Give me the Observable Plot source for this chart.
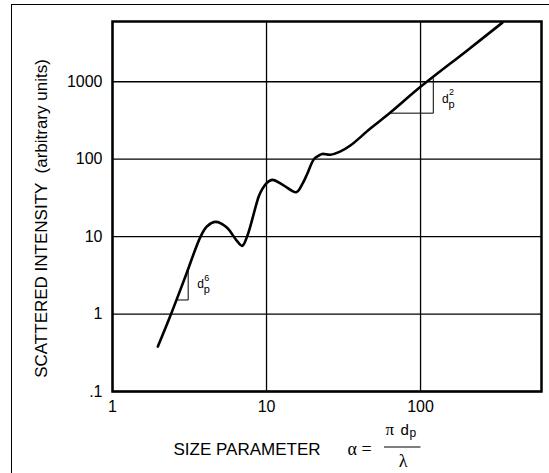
<!DOCTYPE html>
<html><head><meta charset="utf-8">
<script src="https://cdn.jsdelivr.net/npm/d3@7"></script>
<script src="https://cdn.jsdelivr.net/npm/@observablehq/plot@0.6"></script>
<style>
html,body{margin:0;padding:0;background:#fff;overflow:hidden;}
#wrap{position:relative;width:549px;height:473px;}
#border{position:absolute;left:11px;top:4px;width:620px;height:620px;border:1.5px solid #000;box-sizing:border-box;}
#wrap svg{position:absolute;left:0;top:0;}
</style></head><body><div id="wrap"><div id="border"></div></div>
<script>
// size parameter (alpha) and scattered intensity
const alpha     = [1.97, 2.4, 3.0, 3.73, 4.1, 4.67, 5.5, 6.4, 6.95, 7.5, 8.9, 9.38, 10, 10.9, 12.9, 15.6, 17.1, 18.4, 20.3, 21.9, 23, 26, 30, 35, 47, 64, 100, 200, 340];
const intensity = [0.38, 1.0, 3.2, 10, 13.5, 15.5, 13.2, 8.9, 7.6, 10.2, 33, 41, 49, 54, 46, 37.5, 48, 65, 100, 112, 117, 114, 125, 150, 247, 404, 860, 2520, 5800];

const xTicks = [1, 10, 100];
const xTickLabels = ["1", "10", "100"];
const yTicks = [0.1, 1, 10, 100, 1000];
const yTickLabels = [".1", "1", "10", "100", "1000"];

// slope triangles
const tri6x = [2.63, 3.10, 3.10];
const tri6y = [1.52, 1.52, 3.67];
const tri2x = [63.2, 121, 121];
const tri2y = [393, 393, 1100];
const lab6 = {x: 3.55, y: 2.4, exp: "6"};
const lab2 = {x: 138, y: 590, exp: "2"};

const yTitle = "SCATTERED INTENSITY  (arbitrary units)";
const xTitle = "SIZE PARAMETER";

const curve = alpha.map((a, i) => ({a, v: intensity[i]}));
const tri6 = tri6x.map((x, i) => ({x, y: tri6y[i]}));
const tri2 = tri2x.map((x, i) => ({x, y: tri2y[i]}));

const sans = "'Liberation Sans', Arial, sans-serif";
const serif = "'Liberation Serif', 'Times New Roman', serif";

function annot(l) {
  return [
    Plot.text([l], {x: "x", y: "y", text: () => "d", textAnchor: "start", lineAnchor: "middle", fontSize: 12}),
    Plot.text([l], {x: "x", y: "y", text: () => "p", textAnchor: "start", lineAnchor: "middle", fontSize: 11, dx: 6.5, dy: 5}),
    Plot.text([l], {x: "x", y: "y", text: d => d.exp, textAnchor: "start", lineAnchor: "middle", fontSize: 9, dx: 7, dy: -7})
  ];
}

const fractionBar = (index, scales, values, dim) => {
  const ns = "http://www.w3.org/2000/svg";
  const ln = document.createElementNS(ns, "line");
  const y0 = dim.height - dim.marginBottom + 56;
  ln.setAttribute("x1", dim.marginLeft + 272);
  ln.setAttribute("x2", dim.marginLeft + 308.5);
  ln.setAttribute("y1", y0);
  ln.setAttribute("y2", y0);
  ln.setAttribute("stroke", "#000");
  ln.setAttribute("stroke-width", "1.2");
  return ln;
};

const chart = Plot.plot({
  width: 549,
  height: 473,
  marginLeft: 112,
  marginRight: 8,
  marginTop: 21,
  marginBottom: 82,
  x: {type: "log", domain: [1, 610]},
  y: {type: "log", domain: [0.1, 6000]},
  style: {fontFamily: sans, fontSize: "16px", background: "transparent", color: "#000"},
  marks: [
    Plot.gridX(xTicks, {stroke: "#000", strokeOpacity: 1, strokeWidth: 1.3}),
    Plot.gridY(yTicks, {stroke: "#000", strokeOpacity: 1, strokeWidth: 1.3}),
    Plot.axisX({ticks: xTicks, tickFormat: d => xTickLabels[xTicks.indexOf(d)], tickSize: 0, tickPadding: 9, label: null, fontSize: 16}),
    Plot.axisY({ticks: yTicks, tickFormat: d => yTickLabels[yTicks.indexOf(d)], tickSize: 0, tickPadding: 10, label: null, fontSize: 16}),
    Plot.line(tri6, {x: "x", y: "y", stroke: "#000", strokeWidth: 1}),
    Plot.line(tri2, {x: "x", y: "y", stroke: "#000", strokeWidth: 1}),
    Plot.line(curve, {x: "a", y: "v", curve: "catmull-rom", stroke: "#000", strokeWidth: 2.6}),
    ...annot(lab6),
    ...annot(lab2),
    Plot.frame({stroke: "#000", strokeWidth: 2.5}),
    // axis titles
    Plot.text([yTitle], {text: d => d, frameAnchor: "left", rotate: -90, textAnchor: "middle", lineAnchor: "middle", dx: -71, dy: 12, fontSize: 17}),
    Plot.text([xTitle], {text: d => d, frameAnchor: "bottom-left", textAnchor: "start", lineAnchor: "bottom", dx: 61, dy: 63, fontSize: 17}),
    Plot.text(["α ="], {text: d => d, frameAnchor: "bottom-left", textAnchor: "start", lineAnchor: "bottom", dx: 235, dy: 63, fontSize: 18, fontFamily: serif}),
    Plot.text(["π"], {text: d => d, frameAnchor: "bottom-left", textAnchor: "start", lineAnchor: "bottom", dx: 273, dy: 43, fontSize: 17, fontFamily: serif}),
    Plot.text(["d"], {text: d => d, frameAnchor: "bottom-left", textAnchor: "start", lineAnchor: "bottom", dx: 288, dy: 43, fontSize: 15}),
    Plot.text(["p"], {text: d => d, frameAnchor: "bottom-left", textAnchor: "start", lineAnchor: "bottom", dx: 297, dy: 45, fontSize: 12}),
    fractionBar,
    Plot.text(["λ"], {text: d => d, frameAnchor: "bottom-left", textAnchor: "middle", lineAnchor: "bottom", dx: 290.5, dy: 75, fontSize: 18, fontFamily: serif})
  ]
});
document.getElementById("wrap").appendChild(chart);
</script>
</body></html>
